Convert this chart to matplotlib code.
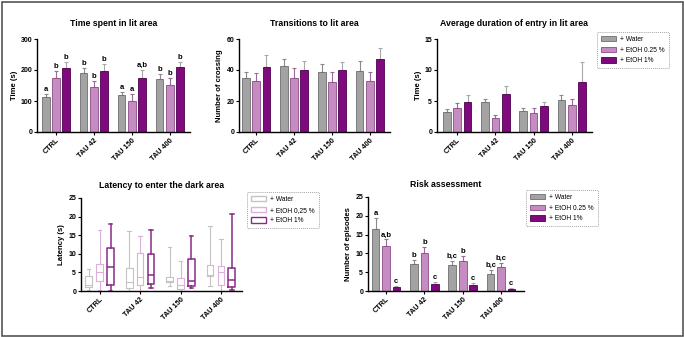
import matplotlib
matplotlib.use("Agg")
import matplotlib.pyplot as plt
from matplotlib.patches import Patch, Rectangle
import numpy as np

plt.rcParams['font.family'] = ['Liberation Sans', 'DejaVu Sans']

groups = ["CTRL", "TAU 42", "TAU 150", "TAU 400"]
series = ["+ Water", "+ EtOH 0.25 %", "+ EtOH 1%"]
series_box = ["+ Water", "+ EtOH 0,25 %", "+ EtOH 1%"]

# Time spent in lit area (mean, upper error)
time_mean = [[113, 191, 118, 172], [173, 144, 100, 153], [205, 198, 174, 211]]
time_err = [[11, 15, 12, 14], [25, 21, 24, 22], [20, 22, 26, 15]]
time_letters = [["a", "b", "a", "b"], ["b", "b", "a", "b"], ["b", "b", "a,b", "b"]]

# Transitions to lit area
trans_mean = [[35.0, 42.8, 39.0, 39.6], [33.2, 35.0, 32.4, 33.2], [42.0, 39.7, 40.3, 47.0]]
trans_err = [[3.7, 4.2, 4.8, 6.2], [4.8, 6.3, 6.3, 5.5], [7.6, 6.1, 4.9, 7.3]]

# Average duration of entry in lit area
dur_mean = [[3.3, 4.8, 3.4, 5.2], [3.9, 2.3, 3.1, 4.3], [4.9, 6.2, 4.2, 8.0]]
dur_err = [[0.4, 0.5, 0.4, 0.8], [0.7, 0.4, 0.7, 1.1], [1.0, 1.2, 0.6, 3.3]]

# Risk assessment
risk_mean = [[16.5, 7.1, 6.8, 4.6], [12.0, 10.0, 8.1, 6.4], [1.0, 1.8, 1.7, 0.6]]
risk_err = [[3.0, 1.1, 1.3, 1.0], [1.7, 1.7, 1.3, 1.0], [0.3, 0.5, 0.5, 0.2]]
risk_letters = [["a", "b", "b,c", "b,c"], ["a,b", "b", "b", "b,c"], ["c", "c", "c", "c"]]

# Latency to enter the dark area: (whislo, q1, median, q3, whishi)
lat_stats = [
    [(0.3, 1.2, 1.5, 4.0, 6.0), (0.0, 0.9, 2.5, 6.2, 16.1), (1.4, 2.3, 2.8, 3.8, 11.7), (1.3, 3.9, 4.4, 7.0, 17.6)],
    [(0.3, 2.7, 5.0, 7.2, 16.3), (0.0, 1.6, 3.8, 10.3, 14.8), (0.0, 0.5, 1.7, 3.5, 8.0), (0.0, 1.6, 5.0, 6.6, 13.9)],
    [(0.0, 1.6, 6.5, 11.6, 18.0), (0.9, 1.8, 4.4, 10.0, 16.5), (0.8, 1.3, 2.6, 8.7, 14.7), (0.3, 1.1, 3.0, 6.2, 20.6)],
]

fills = ["#a3a3a3", "#c48cc0", "#7e0a7e"]
edges = ["#6e6e6e", "#8c4c88", "#4d004d"]
errc = ["#8a8a8a", "#9a6a98", "#a8a8a8"]
box_edges = ["#c4c4c4", "#ddb0da", "#8a2a88"]

W, H = 684, 337
fig = plt.figure(figsize=(W / 100, H / 100), dpi=100)

def ax_px(x0, y0, x1, y1):
    return fig.add_axes([x0 / W, 1 - y1 / H, (x1 - x0) / W, (y1 - y0) / H])

TICK_FS = 5.0
LAB_FS = 5.6
TITLE_FS = 6.3
XT_FS = 5.2

def style(ax, ymax, ystep, ylabel, title, xl, xr, pad=6):
    for s in ["top", "right"]:
        ax.spines[s].set_visible(False)
    for s in ["left", "bottom"]:
        ax.spines[s].set_linewidth(1.0)
    ax.set_ylim(0, ymax)
    ax.set_yticks(np.arange(0, ymax + 0.01, ystep))
    ax.set_xlim(xl, xr)
    ax.set_xticks(range(len(groups)))
    ax.set_xticklabels(groups, rotation=45, ha="right", rotation_mode="anchor",
                       fontsize=XT_FS, fontweight="bold")
    ax.tick_params(axis="both", length=2, width=0.8, pad=1.5)
    ax.tick_params(axis="y", labelsize=TICK_FS)
    for t in ax.get_yticklabels():
        t.set_fontweight("bold")
    ax.set_ylabel(ylabel, fontsize=LAB_FS, fontweight="bold", labelpad=2)
    ax.set_title(title, fontsize=TITLE_FS, fontweight="bold", pad=pad)

def bars(ax, means, errs, letters=None, lpad=0):
    x = np.arange(len(groups))
    off = [-0.27, 0.0, 0.27]
    for i in range(3):
        ax.bar(x + off[i], means[i], width=0.2, color=fills[i], edgecolor=edges[i],
               linewidth=0.6, zorder=2)
        ax.errorbar(x + off[i], means[i], yerr=[np.zeros(4), errs[i]], fmt="none",
                    ecolor=errc[i], elinewidth=0.8, capsize=1.6, capthick=0.8, zorder=1)
        if letters:
            for j in range(4):
                ax.text(x[j] + off[i], means[i][j] + errs[i][j] + lpad, letters[i][j],
                        ha="center", va="bottom", fontsize=5.5, fontweight="bold")

def legend(handles, labels, x0, y0):
    leg = fig.legend(handles, labels, loc="upper left", bbox_to_anchor=(x0 / W, 1 - y0 / H),
                     fontsize=4.8, frameon=True, fancybox=True, handlelength=2.2,
                     handleheight=0.8, handletextpad=0.7, borderpad=0.6, labelspacing=0.55,
                     borderaxespad=0.0)
    fr = leg.get_frame()
    fr.set_linestyle((0, (1, 1)))
    fr.set_edgecolor("#909090")
    fr.set_linewidth(0.7)
    return leg

# Panel 1
ax1 = ax_px(37, 39, 190, 132)
bars(ax1, time_mean, time_err, time_letters, lpad=3)
style(ax1, 300, 100, "Time (s)", "Time spent in lit area", -0.5, 3.53, pad=9)

# Panel 2
ax2 = ax_px(239, 39, 390, 132)
bars(ax2, trans_mean, trans_err)
style(ax2, 60, 20, "Number of crossing", "Transitions to lit area", -0.45, 3.53, pad=9)

# Panel 3
ax3 = ax_px(437, 39, 592, 132)
bars(ax3, dur_mean, dur_err)
style(ax3, 15, 5, "Time (s)", "Average duration of entry in lit area", -0.53, 3.53, pad=9)

bar_handles = [Patch(facecolor=fills[i], edgecolor=edges[i], linewidth=0.6) for i in range(3)]
legend(bar_handles, series, 597, 32)

# Panel 4 (box plots)
ax4 = ax_px(81, 198, 242, 291)
off = [-0.27, 0.0, 0.27]
for i in range(3):
    stats = []
    for j in range(4):
        lo, q1, med, q3, hi = lat_stats[i][j]
        stats.append(dict(whislo=lo, q1=q1, med=med, q3=q3, whishi=hi, fliers=[]))
    pos = np.arange(4) + off[i]
    lw = 1.1 if i == 2 else 0.8
    props = dict(color=box_edges[i], linewidth=lw)
    ax4.bxp(stats, positions=pos, widths=0.17, showfliers=False,
            boxprops=props, whiskerprops=props, capprops=props, medianprops=props,
            manage_ticks=False)
style(ax4, 25, 5, "Latency (s)", "Latency to enter the dark area", -0.46, 3.52, pad=7)
box_handles = [Rectangle((0, 0), 1, 1, facecolor="white", edgecolor=box_edges[i],
                         linewidth=1.0) for i in range(3)]
legend(box_handles, series_box, 247, 192)

# Panel 5
ax5 = ax_px(368, 197, 524, 291)
bars(ax5, risk_mean, risk_err, risk_letters, lpad=0.3)
style(ax5, 25, 5, "Number of episodes", "Risk assessment", -0.47, 3.6, pad=7)
legend(bar_handles, series, 526, 190)

# Outer frame
fig.add_artist(Rectangle((1.5 / W, 1.5 / H), (W - 3) / W, (H - 3) / H, transform=fig.transFigure,
                         fill=False, edgecolor="#555555", linewidth=1.2))

fig.savefig("out.png", dpi=100)
